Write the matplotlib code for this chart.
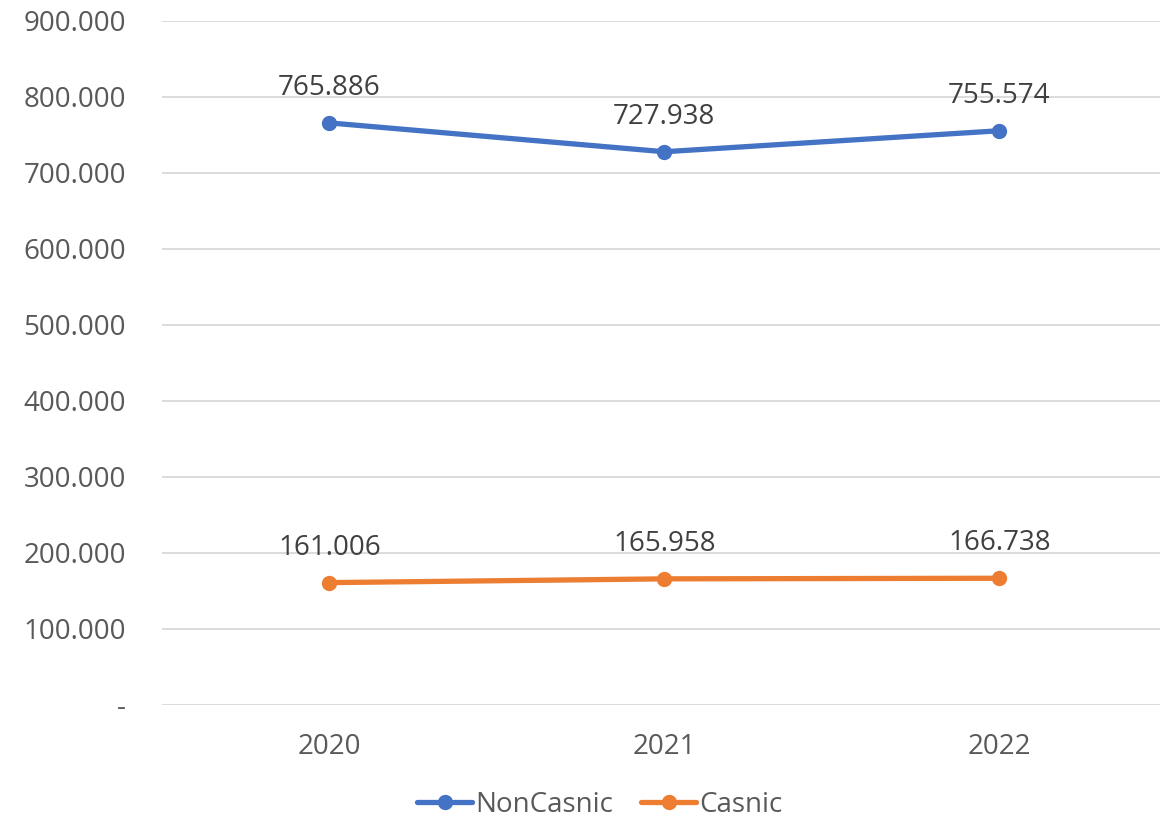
import numpy as np
import matplotlib.pyplot as plt
from matplotlib.ticker import FuncFormatter

# data
years = ['2020', '2021', '2022']
non_casnic = [765886, 727938, 755574]
casnic = [161006, 165958, 166738]
series_names = ['NonCasnic', 'Casnic']
colors = ['#4472C4', '#ED7D31']


def fmt_thousands(v, pos=None):
    """Excel-style accounting format with dot separators, zero as '-'."""
    if v == 0:
        return '-'
    return f'{int(round(v)):,}'.replace(',', '.')


plt.rcParams['font.family'] = ['Open Sans', 'DejaVu Sans']

fig = plt.figure(figsize=(11.6, 8.23), dpi=100)
ax = fig.add_axes([0.1397, 0.1434, 0.8603, 0.8311])

x = np.arange(len(years))
for vals, name, col in zip([non_casnic, casnic], series_names, colors):
    ax.plot(x, vals, color=col, lw=3.8, marker='o', markersize=10,
            label=name, solid_capstyle='round', zorder=3)
    for xi, v in zip(x, vals):
        ax.annotate(fmt_thousands(v), (xi, v), xytext=(0, 15),
                    textcoords='offset points', ha='center', va='bottom',
                    fontsize=20, color='#404040')

ax.set_ylim(0, 900000)
ax.set_yticks(np.arange(0, 900001, 100000))
ax.yaxis.set_major_formatter(FuncFormatter(fmt_thousands))
ax.set_xlim(-0.5, 2.48)
ax.set_xticks(x)
ax.set_xticklabels(years)

ax.grid(axis='y', color='#D9D9D9', lw=1.3)
ax.set_axisbelow(True)
for s in ax.spines.values():
    s.set_visible(False)
ax.tick_params(axis='both', length=0, labelsize=20, labelcolor='#595959')
ax.tick_params(axis='y', pad=26)
ax.tick_params(axis='x', pad=20)

fig.legend(loc='lower center', bbox_to_anchor=(0.517, -0.025), ncol=2,
           frameon=False, fontsize=20, labelcolor='#595959',
           handlelength=2.0, handletextpad=0.1, columnspacing=1.0)

plt.savefig('out.png', dpi=100)
